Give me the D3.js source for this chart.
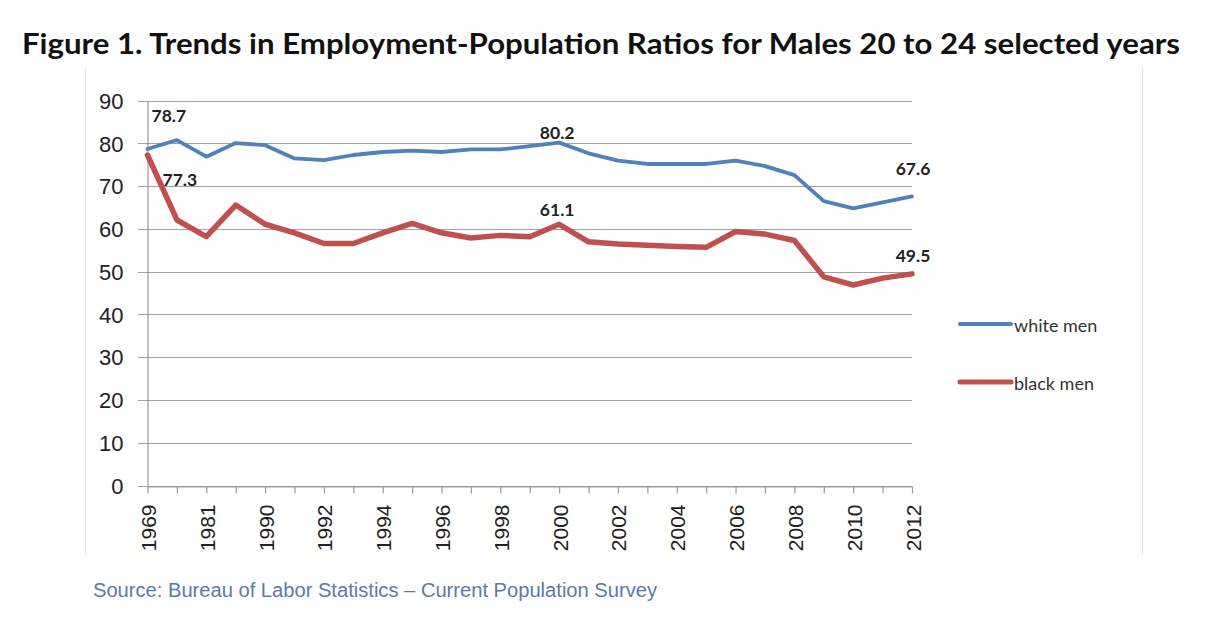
<!DOCTYPE html>
<html>
<head>
<meta charset="utf-8">
<script src="https://cdn.jsdelivr.net/npm/d3@7"></script>
<style>
  html, body { margin: 0; padding: 0; background: #fff; }
  svg { display: block; }
</style>
</head>
<body>
<svg id="chart" width="1208" height="642"></svg>
<script>
// ---- data ----
const years = ["1969","1979","1981","1989","1990","1991","1992","1993","1994","1995","1996","1997","1998","1999","2000","2001","2002","2003","2004","2005","2006","2007","2008","2009","2010","2011","2012"];
const whiteMen = [78.7,80.8,76.9,80.1,79.6,76.5,76.1,77.3,78.0,78.3,78.0,78.6,78.6,79.4,80.2,77.7,76.0,75.2,75.2,75.2,76.0,74.7,72.6,66.5,64.8,66.2,67.6];
const blackMen = [77.3,62.1,58.2,65.6,61.1,59.1,56.6,56.6,59.1,61.3,59.1,57.9,58.5,58.2,61.1,57.0,56.5,56.2,55.9,55.7,59.4,58.8,57.3,48.8,46.9,48.5,49.5];
const yTicks = [0,10,20,30,40,50,60,70,80,90];
const seriesNames = ["white men","black men"];
const titleText = "Figure 1. Trends in Employment-Population Ratios for Males 20 to 24 selected years";
const sourceText = "Source: Bureau of Labor Statistics \u2013 Current Population Survey";
// labelled points: [series index, year index]
const labelled = [[0,0],[1,0],[0,14],[1,14],[0,26],[1,26]];

// ---- layout / style ----
const colors = ["#4f81bd", "#c0504d"];
const widths = [3.8, 5.5];
const labelOffsets = [[4,-27,"start"],[15,31,"start"],[-2,-4,"middle"],[-2,-8,"middle"],[1,-21,"middle"],[1,-12,"middle"]];

const svg = d3.select("#chart");
const x = d3.scalePoint().domain(years).range([147.5, 912]).padding(0);
const y = d3.scaleLinear().domain([0, 90]).range([485.5, 100.7]);

// frame lines
svg.append("line").attr("x1",85.5).attr("x2",85.5).attr("y1",67).attr("y2",555).attr("stroke","#e6e6e6");
svg.append("line").attr("x1",1142.5).attr("x2",1142.5).attr("y1",67).attr("y2",555).attr("stroke","#e2e2e2");

// title
svg.append("text").attr("x", 22).attr("y", 54)
  .attr("font-family", "Lato, 'Open Sans', sans-serif").attr("font-weight", "bold")
  .attr("font-size", 29).attr("fill", "#111")
  .attr("textLength", 1158).attr("lengthAdjust", "spacingAndGlyphs")
  .text(titleText);

// gridlines
svg.append("g").selectAll("line").data(yTicks).join("line")
  .attr("x1", 138).attr("x2", 912)
  .attr("y1", d => Math.round(y(d)) + 0.5).attr("y2", d => Math.round(y(d)) + 0.5)
  .attr("stroke", "#a0a0a0").attr("stroke-width", 1);

// y axis labels
const yAxis = svg.append("g").attr("transform", "translate(147.5,0)")
  .call(d3.axisLeft(y).tickValues(yTicks).tickSize(0).tickPadding(24).tickFormat(d3.format("d")));
yAxis.select(".domain").attr("stroke", "#999").attr("stroke-width", 1.2);
yAxis.selectAll("text").attr("font-family", "'Liberation Sans', Arial, sans-serif")
  .attr("font-size", 22).attr("fill", "#222").attr("dy", "0.35em");

// x axis
const xAxis = svg.append("g").attr("transform", "translate(0," + (Math.round(y(0)) + 0.5) + ")")
  .call(d3.axisBottom(x).tickSize(7).tickSizeOuter(0).tickFormat((d, i) => i % 2 === 0 ? d : ""));
xAxis.select(".domain").attr("stroke", "#999").attr("stroke-width", 1.2);
xAxis.selectAll(".tick line").attr("stroke", "#999").attr("stroke-width", 1.2);
xAxis.selectAll("text")
  .attr("font-family", "'Liberation Sans', Arial, sans-serif").attr("font-size", 21).attr("fill", "#222")
  .attr("text-anchor", "end")
  .attr("transform", "translate(8,18) rotate(-90)")
  .attr("x", 0).attr("y", 0).attr("dy", 0);

// lines
const seriesData = [whiteMen, blackMen];
const line = d3.line().x((d, i) => x(years[i])).y(d => y(d));
svg.append("g").selectAll("path").data(seriesData).join("path")
  .attr("d", d => line(d))
  .attr("fill", "none")
  .attr("stroke", (d, i) => colors[i])
  .attr("stroke-width", (d, i) => widths[i])
  .attr("stroke-linejoin", "round").attr("stroke-linecap", "round");

// data labels
svg.append("g").selectAll("text").data(labelled).join("text")
  .attr("x", (d, i) => x(years[d[1]]) + labelOffsets[i][0])
  .attr("y", (d, i) => y(seriesData[d[0]][d[1]]) + labelOffsets[i][1])
  .attr("text-anchor", (d, i) => labelOffsets[i][2])
  .attr("font-family", "Lato, 'Open Sans', sans-serif").attr("font-weight", "bold")
  .attr("font-size", 17.5).attr("fill", "#222")
  .text(d => seriesData[d[0]][d[1]].toFixed(1));

// legend
const legend = svg.append("g");
const legY = [324, 382];
seriesNames.forEach((name, i) => {
  legend.append("line").attr("x1", 960).attr("x2", 1011).attr("y1", legY[i]).attr("y2", legY[i])
    .attr("stroke", colors[i]).attr("stroke-width", i === 0 ? 4 : 5).attr("stroke-linecap", "round");
  legend.append("text").attr("x", 1014).attr("y", legY[i] + 8)
    .attr("font-family", "Lato, 'Open Sans', sans-serif").attr("font-size", 18).attr("fill", "#333")
    .text(name);
});

// source
svg.append("text").attr("x", 93).attr("y", 597)
  .attr("font-family", "'Liberation Sans', Arial, sans-serif").attr("font-size", 20)
  .attr("fill", "#5b7bab")
  .attr("textLength", 564).attr("lengthAdjust", "spacingAndGlyphs")
  .text(sourceText);
</script>
</body>
</html>
